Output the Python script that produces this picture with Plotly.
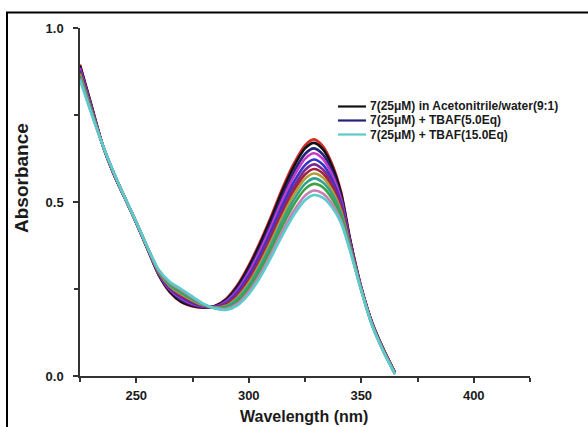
import plotly.graph_objects as go

# ---- data ----
wavelength = [225, 230, 235, 240, 245, 250, 255, 260, 265, 270, 275, 280, 285, 290, 295,
              300, 305, 310, 315, 320, 325, 329, 333, 337, 341, 345, 350, 355, 360, 365]

abs_red = [0.895, 0.780, 0.665, 0.580, 0.510, 0.440, 0.365, 0.290, 0.240, 0.212, 0.200, 0.196, 0.201, 0.222, 0.262,
           0.318, 0.385, 0.460, 0.540, 0.610, 0.663, 0.680, 0.660, 0.610, 0.530, 0.395, 0.255, 0.150, 0.075, 0.010]
abs_black = [0.892, 0.779, 0.665, 0.580, 0.510, 0.440, 0.365, 0.291, 0.242, 0.214, 0.202, 0.197, 0.201, 0.220, 0.258,
             0.313, 0.379, 0.453, 0.532, 0.601, 0.654, 0.670, 0.651, 0.603, 0.525, 0.393, 0.254, 0.150, 0.075, 0.010]
abs_navy = [0.888, 0.776, 0.665, 0.581, 0.510, 0.440, 0.366, 0.292, 0.245, 0.218, 0.204, 0.198, 0.200, 0.217, 0.253,
            0.305, 0.369, 0.441, 0.518, 0.586, 0.638, 0.654, 0.636, 0.590, 0.516, 0.389, 0.253, 0.149, 0.074, 0.009]
abs_magenta = [0.884, 0.774, 0.665, 0.581, 0.511, 0.441, 0.366, 0.294, 0.248, 0.222, 0.207, 0.199, 0.199, 0.214, 0.247,
               0.297, 0.360, 0.431, 0.506, 0.573, 0.624, 0.640, 0.623, 0.579, 0.508, 0.386, 0.253, 0.148, 0.073, 0.009]
abs_blue = [0.879, 0.771, 0.665, 0.582, 0.511, 0.441, 0.367, 0.295, 0.251, 0.226, 0.210, 0.200, 0.198, 0.210, 0.241,
            0.288, 0.348, 0.418, 0.491, 0.557, 0.606, 0.622, 0.607, 0.565, 0.498, 0.382, 0.251, 0.147, 0.072, 0.008]
abs_purple = [0.875, 0.769, 0.665, 0.582, 0.511, 0.441, 0.367, 0.297, 0.254, 0.229, 0.213, 0.201, 0.198, 0.208, 0.235,
              0.281, 0.339, 0.407, 0.479, 0.543, 0.592, 0.608, 0.593, 0.554, 0.490, 0.379, 0.251, 0.146, 0.072, 0.008]
abs_darkred = [0.871, 0.767, 0.665, 0.583, 0.511, 0.442, 0.368, 0.298, 0.256, 0.232, 0.215, 0.202, 0.197, 0.205, 0.231,
               0.274, 0.331, 0.397, 0.468, 0.532, 0.579, 0.595, 0.582, 0.544, 0.482, 0.376, 0.250, 0.146, 0.071, 0.007]
abs_olive = [0.868, 0.765, 0.665, 0.583, 0.511, 0.442, 0.368, 0.299, 0.258, 0.235, 0.217, 0.203, 0.197, 0.202, 0.226,
             0.267, 0.323, 0.388, 0.458, 0.520, 0.567, 0.582, 0.570, 0.534, 0.475, 0.374, 0.249, 0.145, 0.071, 0.007]
abs_teal = [0.864, 0.763, 0.665, 0.584, 0.511, 0.442, 0.369, 0.301, 0.261, 0.239, 0.220, 0.204, 0.196, 0.200, 0.221,
            0.260, 0.314, 0.377, 0.446, 0.506, 0.552, 0.568, 0.556, 0.523, 0.467, 0.371, 0.248, 0.144, 0.070, 0.007]
abs_green = [0.859, 0.760, 0.665, 0.584, 0.512, 0.442, 0.369, 0.302, 0.264, 0.242, 0.222, 0.205, 0.195, 0.196, 0.215,
             0.252, 0.303, 0.366, 0.432, 0.492, 0.537, 0.552, 0.542, 0.510, 0.458, 0.367, 0.247, 0.144, 0.069, 0.006]
abs_pink = [0.854, 0.757, 0.665, 0.585, 0.512, 0.443, 0.370, 0.304, 0.268, 0.247, 0.226, 0.206, 0.195, 0.193, 0.208,
            0.242, 0.291, 0.351, 0.416, 0.474, 0.518, 0.533, 0.524, 0.495, 0.447, 0.363, 0.246, 0.143, 0.069, 0.005]
abs_cyan = [0.850, 0.755, 0.665, 0.585, 0.512, 0.443, 0.370, 0.305, 0.270, 0.250, 0.228, 0.207, 0.194, 0.190, 0.203,
            0.235, 0.283, 0.342, 0.405, 0.462, 0.505, 0.520, 0.512, 0.485, 0.440, 0.360, 0.245, 0.142, 0.068, 0.005]

series = [
    (abs_red, "#d42a2a"),
    (abs_black, "#111111"),
    (abs_navy, "#23237a"),
    (abs_magenta, "#c838c8"),
    (abs_blue, "#3535c8"),
    (abs_purple, "#7b2a93"),
    (abs_darkred, "#a3233f"),
    (abs_olive, "#b59a3a"),
    (abs_teal, "#2fa38f"),
    (abs_green, "#3fa046"),
    (abs_pink, "#c77fb8"),
    (abs_cyan, "#5ccbcb"),
]

legend_labels = ["7(25\u03bcM) in Acetonitrile/water(9:1)",
                 "7(25\u03bcM) + TBAF(5.0Eq)",
                 "7(25\u03bcM) + TBAF(15.0Eq)"]
legend_colors = ["#111111", "#23237a", "#5ccbcb"]

x_ticks = [250, 300, 350, 400]
x_minor = [225, 275, 325, 375, 425]
y_ticks = [0.0, 0.5, 1.0]
y_ticktext = ["0.0", "0.5", "1.0"]
y_minor = [0.25, 0.75]

FONT = "Liberation Sans, Arial, sans-serif"

# plot-area geometry in pixels
L, R, T, B = 80, 530, 28, 376
W, H = 588, 427


def px_x(p):
    return (p - L) / (R - L)


def px_y(p):
    return (B - p) / (B - T)


fig = go.Figure()
for vals, col in series:
    fig.add_trace(go.Scatter(x=wavelength, y=vals, mode="lines",
                             line=dict(color=col, width=2.6, shape="spline", smoothing=0.8),
                             showlegend=False, hoverinfo="skip"))

axis_common = dict(showline=True, linecolor="#333333", linewidth=1.5, ticks="outside",
                   ticklen=5, tickwidth=1.5, tickcolor="#333333", showgrid=False, zeroline=False,
                   tickfont=dict(family=FONT, size=13, color="#1a1a1a", weight="bold"))

fig.update_xaxes(range=[225, 425], tickvals=x_ticks, ticklabelstandoff=2,
                 minor=dict(tickvals=x_minor, ticks="outside", ticklen=4, tickwidth=1.5, tickcolor="#333333"),
                 **axis_common)
fig.update_yaxes(range=[0, 1.0], tickvals=y_ticks, ticktext=y_ticktext, ticklabelstandoff=7,
                 minor=dict(tickvals=y_minor, ticks="outside", ticklen=4, tickwidth=1.5, tickcolor="#333333"),
                 **axis_common)

shapes = [dict(type="rect", xref="paper", yref="paper",
               x0=px_x(7), x1=px_x(596), y0=px_y(436), y1=px_y(12.5),
               line=dict(color="#000000", width=2), fillcolor="rgba(0,0,0,0)", layer="above")]
annotations = []
rows_y = [106.5, 120.5, 134.5]
for lab, col, ry in zip(legend_labels, legend_colors, rows_y):
    shapes.append(dict(type="line", xref="paper", yref="paper",
                       x0=px_x(338), x1=px_x(366), y0=px_y(ry), y1=px_y(ry),
                       line=dict(color=col, width=2.2)))
    annotations.append(dict(text=lab, xref="paper", yref="paper", x=px_x(367.5), y=px_y(ry),
                            xanchor="left", yanchor="middle", showarrow=False,
                            font=dict(family=FONT, size=12, color="#1a1a1a", weight="bold")))

annotations.append(dict(text="Absorbance", xref="paper", yref="paper", x=px_x(21), y=px_y(178),
                        xanchor="center", yanchor="middle", textangle=-90, showarrow=False,
                        font=dict(family=FONT, size=19, color="#1a1a1a", weight="bold")))
annotations.append(dict(text="Wavelength (nm)", xref="paper", yref="paper", x=px_x(304), y=px_y(416),
                        xanchor="center", yanchor="middle", showarrow=False,
                        font=dict(family=FONT, size=16, color="#1a1a1a", weight="bold")))

fig.update_layout(width=W, height=H, autosize=False,
                  margin=dict(l=L, r=W - R, t=T, b=H - B, pad=0),
                  paper_bgcolor="white", plot_bgcolor="white",
                  shapes=shapes, annotations=annotations, showlegend=False)

fig.write_html("out.html")
